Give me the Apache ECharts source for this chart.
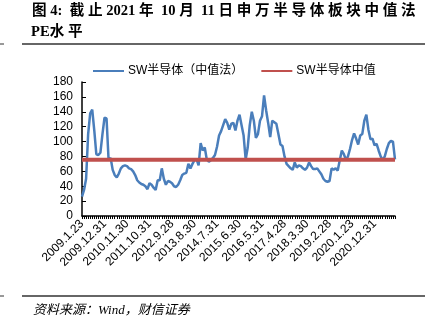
<!DOCTYPE html>
<html>
<head>
<meta charset="utf-8">
<script src="https://cdn.jsdelivr.net/npm/echarts@6/dist/echarts.min.js"></script>
<style>
  html, body { margin: 0; padding: 0; background: #fff; }
  #chart { width: 446px; height: 326px; }
</style>
</head>
<body>
<div id="chart"></div>
<script>
// Month-end dates, 2009.1.23 to 2021.10.11 (one point per month)
const startYear = 2009;
const monthEnds = ['1.23','2.27','3.31','4.30','5.27','6.30','7.31','8.31','9.30','10.30','11.30','12.31'];
// Tick labels shown every 11 months
const tickLabels = ['2009.1.23','2009.12.31','2010.11.30','2011.10.31','2012.9.28','2013.8.30',
  '2014.7.31','2015.6.30','2016.5.31','2017.4.28','2018.3.30','2019.2.28','2020.1.23','2020.12.31'];

// SW semiconductor PE (median method), monthly
const pe = [
  26, 35, 50, 110, 138, 143, 115, 83, 82, 85,
  110, 132, 131, 75, 78, 62, 55, 52, 57, 64,
  67, 68, 67, 64, 63, 60, 55, 48, 45, 43,
  42, 40, 36, 44, 42, 38, 35, 48, 48, 64,
  50, 42, 47, 46, 44, 40, 39, 42, 48, 55,
  57, 58, 70, 64, 70, 75, 76, 68, 98, 88,
  92, 76, 73, 75, 78, 82, 93, 108, 114, 122,
  130, 125, 116, 124, 125, 115, 128, 136, 122, 108,
  76, 92, 122, 140, 128, 105, 110, 128, 134, 162,
  142, 125, 106, 128, 126, 124, 110, 96, 94, 80,
  70, 67, 64, 62, 72, 65, 68, 67, 64, 62,
  65, 72, 67, 63, 63, 64, 60, 56, 50, 47,
  46, 47, 64, 62, 64, 61, 75, 88, 83, 76,
  80, 90, 102, 111, 104, 96, 108, 110, 128, 136,
  116, 103, 104, 95, 97, 88, 80, 75, 80, 90,
  98, 101, 100, 76
];
// Median of the whole period
const medianPE = 75.5;

// Build category labels: tick dates at every 11th month, other months by month end
const categories = pe.map((_, i) => {
  if (i % 11 === 0 && tickLabels[i / 11]) return tickLabels[i / 11];
  if (i === pe.length - 1) return '2021.10.11';
  const y = startYear + Math.floor(i / 12);
  return y + '.' + monthEnds[i % 12];
});
const medianLine = pe.map(() => medianPE);

const chart = echarts.init(document.getElementById('chart'), null, { renderer: 'canvas' });
const latin = '"Liberation Sans", Arial, "Noto Sans CJK SC", sans-serif';
const serif = '"Liberation Serif", "Times New Roman", "Noto Sans CJK SC", serif';
const hidden = 'rgba(0,0,0,0)';

chart.setOption({
  animation: false,
  backgroundColor: '#ffffff',
  grid: { left: 82, right: 51, top: 82, bottom: 110, containLabel: false },
  legend: {
    left: 87, top: 60,
    itemWidth: 31, itemHeight: 10, itemGap: 17,
    // line-only legend keys
    itemStyle: { color: hidden, borderColor: hidden, borderWidth: 0, opacity: 0 },
    textStyle: { fontFamily: latin, fontSize: 12, color: '#000', padding: [0, 0, 0, -1] },
    data: ['SW半导体（中值法）', 'SW半导体中值']
  },
  xAxis: {
    type: 'category',
    data: categories,
    boundaryGap: false,
    axisLine: { lineStyle: { color: '#000', width: 1.5 } },
    axisTick: { show: true, interval: 0, length: 3, lineStyle: { color: '#000' } },
    axisLabel: {
      interval: 10, rotate: 45, margin: 6,
      fontFamily: latin, fontSize: 12, color: '#000'
    },
    splitLine: { show: false }
  },
  yAxis: {
    type: 'value',
    min: 0, max: 180, interval: 20,
    axisLine: { show: true, lineStyle: { color: '#000', width: 1.5 } },
    axisTick: { show: true, inside: true, length: 4, lineStyle: { color: '#000' } },
    axisLabel: { fontFamily: latin, fontSize: 12, color: '#000', margin: 9 },
    splitLine: { show: false }
  },
  series: [
    {
      name: 'SW半导体（中值法）',
      type: 'line',
      data: pe,
      symbol: 'none',
      lineStyle: { color: '#4a7ebb', width: 2.5 },
      itemStyle: { color: '#4a7ebb' },
      z: 2
    },
    {
      name: 'SW半导体中值',
      type: 'line',
      data: medianLine,
      symbol: 'none',
      lineStyle: { color: '#c0504d', width: 4 },
      itemStyle: { color: '#c0504d' },
      z: 3
    }
  ],
  graphic: [
    {
      type: 'text', left: 32, top: 4,
      style: { text: '图 4:  截 止 2021 年  10 月  11 日 申 万 半 导 体 板 块 中 值 法',
        font: 'bold 14.6px ' + serif, fill: '#000' }
    },
    {
      type: 'text', left: 31, top: 25,
      style: { text: 'PE水 平', font: 'bold 14.6px ' + serif, fill: '#000' }
    },
    { type: 'line', shape: { x1: 22, y1: 44, x2: 425, y2: 44 }, style: { stroke: '#333', lineWidth: 1.5 } },
    { type: 'line', shape: { x1: 0, y1: 44, x2: 4, y2: 44 }, style: { stroke: '#333', lineWidth: 1 } },
    { type: 'line', shape: { x1: 22, y1: 296, x2: 425, y2: 296 }, style: { stroke: '#333', lineWidth: 1.5 } },
    { type: 'line', shape: { x1: 0, y1: 296, x2: 4, y2: 296 }, style: { stroke: '#333', lineWidth: 1 } },
    {
      type: 'text', left: 33, top: 304,
      style: { text: '资料来源：Wind，财信证券', font: 'italic 13px ' + serif, fill: '#000' }
    }
  ]
});
</script>
</body>
</html>
